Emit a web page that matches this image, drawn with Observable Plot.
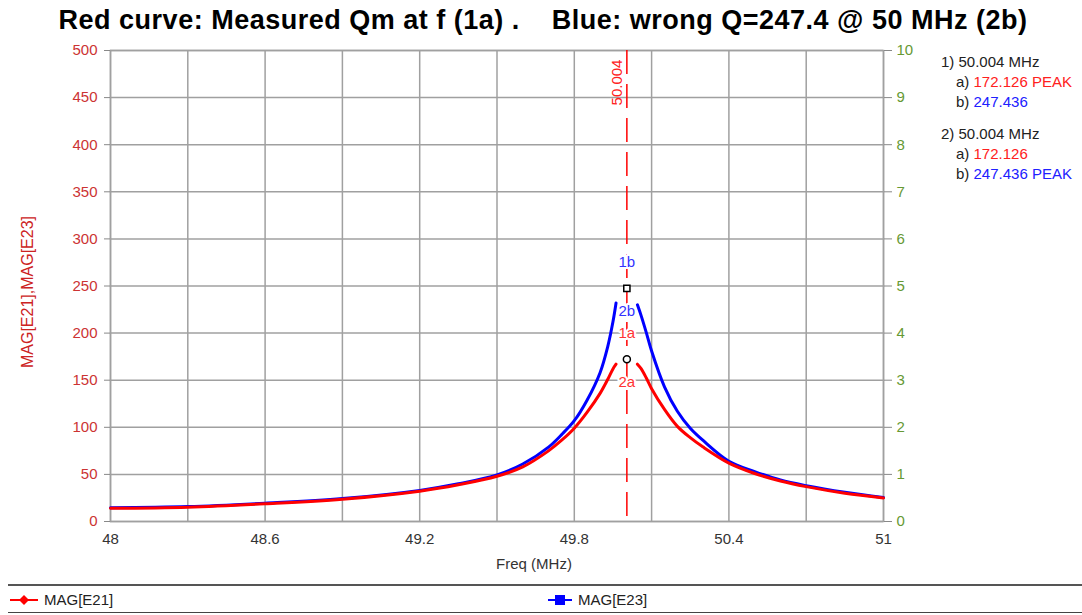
<!DOCTYPE html>
<html>
<head>
<meta charset="utf-8">
<script src="https://cdn.jsdelivr.net/npm/d3@7"></script>
<script src="https://cdn.jsdelivr.net/npm/@observablehq/plot@0.6"></script>
<style>
  html, body { margin: 0; padding: 0; background: #fff; }
  body { font-family: "Liberation Sans", Arial, sans-serif; }
  #wrap { position: relative; width: 1082px; height: 615px; overflow: hidden; }
  #title { height: 40px; line-height: 40px; text-align: center; font-weight: bold; font-size: 27px;
           letter-spacing: 0.5px; white-space: pre; color: #000; padding-left: 4px; }
  #notes { position: absolute; left: 941px; top: 52px; font-size: 15px; line-height: 20px; color: #222; }
  #notes .ind { padding-left: 15px; }
  #notes .gap { height: 12px; }
  #legend { position: absolute; left: 8px; top: 584px; width: 1074px; height: 26px;
            border-top: 2px solid #555; border-bottom: 1px solid #444; font-size: 15px; color: #222; }
  .entry { position: absolute; top: 4px; height: 20px; line-height: 20px; display: flex; align-items: center; }
  .entry svg { margin-right: 6px; }
</style>
</head>
<body>
<div id="wrap">
  <div id="title"></div>
  <div id="chart"></div>
  <div id="notes"></div>
  <div id="legend"></div>
</div>
<script>
// ---- data ----
const titleText = "Red curve: Measured Qm at f (1a) .    Blue: wrong Q=247.4 @ 50 MHz (2b)";
const freqMHz = [48.0, 48.3, 48.6, 48.9, 49.2, 49.35, 49.5, 49.6, 49.7, 49.75, 49.8, 49.85, 49.9, 49.93, 49.95, 49.962,
                 50.004, 50.045, 50.06, 50.08, 50.1, 50.15, 50.2, 50.25, 50.3, 50.4, 50.5, 50.6, 50.7, 50.85, 51.0];
const magE21 = [14, 15.2, 18.8, 23.7, 32.2, 39, 48, 58, 75, 86, 99, 116, 136, 151, 162, 167,
                null, 167, 162, 152, 141, 119, 101, 89, 79, 62, 51, 43, 37, 30, 25];
const magE23 = [14.5, 15.8, 19.4, 24.3, 33, 40, 49.5, 61, 79, 92, 107, 129, 158, 186, 212, 232,
                null, 230, 218, 200, 181, 143, 117, 99, 86, 64, 53, 44, 38, 31, 25.5];
const markerFreq = 50.004;
const markerLabels = ["1a", "1b", "2a", "2b"];
const peakE21 = 172.126;
const peakE23 = 247.436;
const yTicks = [0, 50, 100, 150, 200, 250, 300, 350, 400, 450, 500];
const rightTicks = [0, 1, 2, 3, 4, 5, 6, 7, 8, 9, 10];
const xGridTicks = [48, 48.3, 48.6, 48.9, 49.2, 49.5, 49.8, 50.1, 50.4, 50.7, 51];
const xLabelTicks = [48, 48.6, 49.2, 49.8, 50.4, 51];
const yTitle = "MAG[E21],MAG[E23]";
const xTitle = "Freq (MHz)";
const seriesNames = ["MAG[E21]", "MAG[E23]"];
const seriesColors = ["#ff0000", "#0000ff"];

// ---- build ----
document.getElementById("title").textContent = titleText;

const rows = freqMHz.map((f, i) => ({f, e21: magE21[i], e23: magE23[i]}));
const peaks = [
  {f: markerFreq, v: peakE23, symbol: "square"},
  {f: markerFreq, v: peakE21, symbol: "circle"}
];
const labelsAbove = [
  {f: markerFreq, v: peakE23, t: markerLabels[1], c: "#3333ff"},
  {f: markerFreq, v: peakE21, t: markerLabels[0], c: "#ff3333"}
];
const labelsBelow = [
  {f: markerFreq, v: peakE23, t: markerLabels[3], c: "#3333ff"},
  {f: markerFreq, v: peakE21, t: markerLabels[2], c: "#ff3333"}
];

const grid = "#a0a0a0";
const chart = Plot.plot({
  width: 1082,
  height: 540,
  marginLeft: 110,
  marginRight: 199,
  marginTop: 10,
  marginBottom: 59,
  style: {fontFamily: "'Liberation Sans', Arial, sans-serif", fontSize: "15px", background: "#fff", overflow: "visible"},
  x: {domain: [48, 51]},
  y: {domain: [0, 500]},
  marks: [
    Plot.gridX(xGridTicks, {stroke: grid, strokeOpacity: 1, strokeWidth: 1.5}),
    Plot.gridY(yTicks, {stroke: grid, strokeOpacity: 1, strokeWidth: 1.5}),
    Plot.frame({stroke: grid, strokeWidth: 1.5}),
    // left axis
    Plot.axisY(yTicks, {anchor: "left", tickSize: 6, tickFormat: () => "", stroke: "#888", label: null}),
    Plot.axisY(yTicks, {anchor: "left", tickSize: 0, tickPadding: 13, color: "#cc3333", label: null}),
    Plot.text([yTitle], {frameAnchor: "left", textAnchor: "middle", rotate: -90, dx: -83, dy: 6,
      fill: "#cc2222", fontSize: 16}),
    // right axis 0..10
    Plot.axisY(rightTicks.map(d => d * 50), {anchor: "right", tickSize: 8, tickFormat: () => "", stroke: "#888", label: null}),
    Plot.axisY(rightTicks.map(d => d * 50), {anchor: "right", tickSize: 0, tickPadding: 13, color: "#669933",
      tickFormat: d => String(d / 50), label: null}),
    // x axis
    Plot.axisX(xLabelTicks, {tickSize: 0, tickPadding: 12, color: "#333", tickFormat: d => String(d), label: null}),
    Plot.text([xTitle], {frameAnchor: "bottom", dy: 47, dx: 37, fill: "#333", fontSize: 15}),
    // marker line
    Plot.ruleX([markerFreq], {stroke: "#ff0000", strokeWidth: 1.5, strokeDasharray: "24,10"}),
    Plot.text([markerFreq], {x: d => d, frameAnchor: "top", rotate: -90, dy: 32, dx: -16,
      text: d => d.toFixed(3), fill: "#ff2020", fontSize: 15}),
    // curves
    Plot.line(rows, {x: "f", y: "e23", stroke: seriesColors[1], strokeWidth: 3, curve: "catmull-rom"}),
    Plot.line(rows, {x: "f", y: "e21", stroke: seriesColors[0], strokeWidth: 3, curve: "catmull-rom"}),
    // marker labels
    Plot.text(labelsAbove, {x: "f", y: "v", text: "t", fill: "c", dy: -26, fontSize: 15, stroke: "white", strokeWidth: 4, paintOrder: "stroke"}),
    Plot.text(labelsBelow, {x: "f", y: "v", text: "t", fill: "c", dy: 23, fontSize: 15, stroke: "white", strokeWidth: 4, paintOrder: "stroke"}),
    Plot.dot(peaks, {x: "f", y: "v", symbol: "symbol", r: 3.5, stroke: "black", fill: "white", strokeWidth: 1.5})
  ]
});
document.getElementById("chart").appendChild(chart);

// ---- marker readout ----
const notes = document.getElementById("notes");
const fmt = v => v.toFixed(3);
notes.innerHTML =
  `<div>1) ${fmt(markerFreq)} MHz</div>` +
  `<div class="ind">a) <span style="color:#ff2020">${fmt(peakE21)} PEAK</span></div>` +
  `<div class="ind">b) <span style="color:#2020ff">${fmt(peakE23)}</span></div>` +
  `<div class="gap"></div>` +
  `<div>2) ${fmt(markerFreq)} MHz</div>` +
  `<div class="ind">a) <span style="color:#ff2020">${fmt(peakE21)}</span></div>` +
  `<div class="ind">b) <span style="color:#2020ff">${fmt(peakE23)} PEAK</span></div>`;

// ---- legend ----
const legend = document.getElementById("legend");
const icons = [
  `<svg width="28" height="12"><line x1="0" y1="6" x2="28" y2="6" stroke="${seriesColors[0]}" stroke-width="2"/><path d="M14 1 L19 6 L14 11 L9 6 Z" fill="${seriesColors[0]}"/></svg>`,
  `<svg width="24" height="12"><line x1="0" y1="6" x2="24" y2="6" stroke="${seriesColors[1]}" stroke-width="2"/><rect x="7" y="1" width="10" height="10" fill="${seriesColors[1]}"/></svg>`
];
const lefts = [2, 540];
seriesNames.forEach((n, i) => {
  const e = document.createElement("div");
  e.className = "entry";
  e.style.left = lefts[i] + "px";
  e.innerHTML = icons[i] + `<span>${n}</span>`;
  legend.appendChild(e);
});
</script>
</body>
</html>
